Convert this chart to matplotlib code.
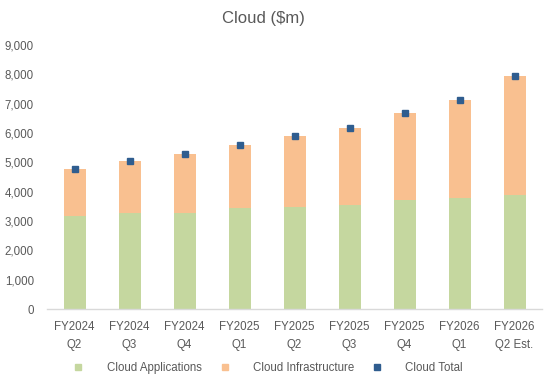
import matplotlib
matplotlib.use("Agg")
import matplotlib.pyplot as plt
from matplotlib.lines import Line2D
from matplotlib.ticker import FuncFormatter

categories = ["FY2024\nQ2", "FY2024\nQ3", "FY2024\nQ4", "FY2025\nQ1", "FY2025\nQ2",
              "FY2025\nQ3", "FY2025\nQ4", "FY2026\nQ1", "FY2026\nQ2 Est."]
cloud_apps = [3170, 3280, 3280, 3450, 3480, 3530, 3730, 3800, 3870]
cloud_infra = [1610, 1780, 1990, 2150, 2420, 2650, 2960, 3340, 4090]
cloud_total = [a + b for a, b in zip(cloud_apps, cloud_infra)]

GREEN = "#C5D79F"
ORANGE = "#F9C090"
BLUE = "#2F5D8F"
TXT = "#595959"

plt.rcParams['font.family'] = ['Liberation Sans', 'DejaVu Sans']

fig = plt.figure(figsize=(5.49, 3.86), dpi=100)
ax = fig.add_axes([47/549, 77/386, 495/549, 264/386])

x = list(range(len(categories)))
ax.bar(x, cloud_apps, width=0.4, color=GREEN, zorder=2)
ax.bar(x, cloud_infra, width=0.4, bottom=cloud_apps, color=ORANGE, zorder=2)
ax.plot(x, cloud_total, linestyle="none", marker="s", markersize=4.6, color=BLUE, zorder=3)

ax.set_xlim(-0.5, len(categories) - 0.5)
ax.set_ylim(0, 9000)
ax.set_yticks(range(0, 9001, 1000))
ax.yaxis.set_major_formatter(FuncFormatter(lambda v, p: f"{int(v):,}"))
ax.set_xticks(x)
ax.set_xticklabels(categories, linespacing=1.7)

for s in ["top", "right", "left"]:
    ax.spines[s].set_visible(False)
ax.spines["bottom"].set_color("#D9D9D9")
ax.spines["bottom"].set_linewidth(1.0)
ax.tick_params(axis="both", length=0, colors=TXT, labelsize=8.3)
ax.tick_params(axis="y", pad=9.5)
ax.tick_params(axis="x", pad=8.5)

fig.text(263/549, 1 - 18/386, "Cloud ($m)", ha="center", va="center", fontsize=12, color=TXT)

handles = [
    Line2D([], [], linestyle="none", marker="s", markersize=4.6, color=GREEN),
    Line2D([], [], linestyle="none", marker="s", markersize=4.6, color=ORANGE),
    Line2D([], [], linestyle="none", marker="s", markersize=4.6, color=BLUE),
]
labels = ["Cloud Applications", "Cloud Infrastructure", "Cloud Total"]
leg = fig.legend(handles, labels, loc="center", bbox_to_anchor=(265/549, 1 - 368/386),
                 ncol=3, frameon=False, fontsize=8.3, handlelength=2.0,
                 handletextpad=1.45, columnspacing=1.0, labelcolor=TXT)

fig.savefig("out.png", dpi=100, facecolor="white")
